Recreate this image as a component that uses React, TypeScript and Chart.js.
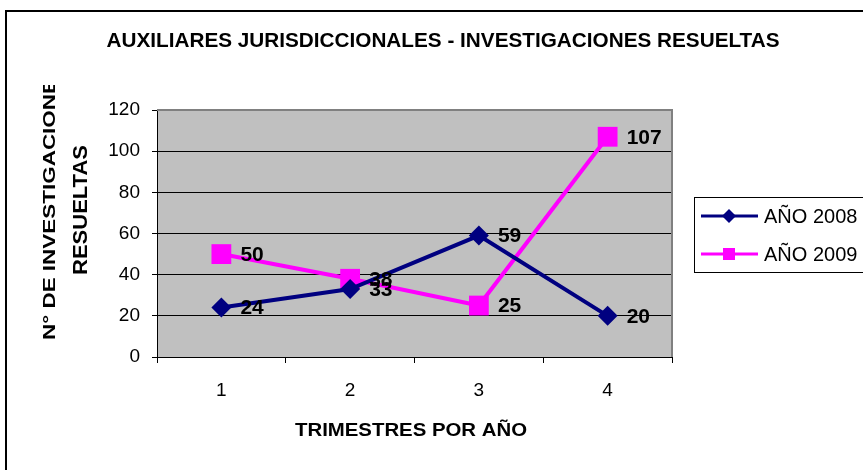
import React, { useEffect, useRef } from "react";
import { Chart, registerables } from "chart.js";

Chart.register(...registerables);

const categories = ["1", "2", "3", "4"];
const serie2008 = [24, 33, 59, 20];
const serie2009 = [50, 38, 25, 107];
const seriesNames = ["AÑO 2008", "AÑO 2009"];
const yTicks = { min: 0, max: 120, step: 20 };
const titleText = "AUXILIARES JURISDICCIONALES - INVESTIGACIONES RESUELTAS";
const yTitle = ["N° DE INVESTIGACIONES", "RESUELTAS"];
const xTitle = "TRIMESTRES POR AÑO";

const NAVY = "#000080";
const MAGENTA = "#FF00FF";
const FONT = "Arial, 'Liberation Sans', sans-serif";

function fitText(ctx: CanvasRenderingContext2D, text: string, cx: number, cy: number, font: string, width: number, rot = 0) {
  ctx.save();
  ctx.font = font;
  const w = ctx.measureText(text).width;
  ctx.translate(cx, cy);
  ctx.rotate(rot);
  ctx.scale(width / w, 1);
  ctx.textAlign = "center";
  ctx.textBaseline = "middle";
  ctx.fillStyle = "#000";
  ctx.fillText(text, 0, 0);
  ctx.restore();
}

const decor = {
  id: "decor",
  beforeDraw(chart: any) {
    const { ctx, chartArea: a } = chart;
    ctx.save();
    ctx.fillStyle = "#fff";
    ctx.fillRect(0, 0, chart.width, chart.height);
    ctx.fillStyle = "#C0C0C0";
    ctx.fillRect(a.left, a.top, a.right - a.left, a.bottom - a.top);
    ctx.restore();
  },
  beforeDatasetsDraw(chart: any) {
    const { ctx, chartArea: a } = chart;
    ctx.save();
    ctx.strokeStyle = "#808080";
    ctx.lineWidth = 2;
    ctx.beginPath();
    ctx.moveTo(a.left, a.top);
    ctx.lineTo(a.right, a.top);
    ctx.lineTo(a.right, a.bottom);
    ctx.stroke();
    ctx.restore();
  },
  afterDatasetsDraw(chart: any) {
    const { ctx } = chart;
    ctx.save();
    ctx.font = "bold 21px " + FONT;
    ctx.fillStyle = "#000";
    ctx.textAlign = "left";
    ctx.textBaseline = "middle";
    chart.data.datasets.forEach((ds: any, i: number) => {
      const meta = chart.getDatasetMeta(i);
      meta.data.forEach((pt: any, j: number) => {
        ctx.fillText(String(ds.data[j]), pt.x + 19, pt.y + 1);
      });
    });
    ctx.restore();
  },
  afterDraw(chart: any) {
    const { ctx } = chart;
    ctx.save();
    ctx.strokeStyle = "#000";
    ctx.lineWidth = 2;
    ctx.beginPath();
    ctx.moveTo(6, chart.height + 5);
    ctx.lineTo(6, 11);
    ctx.lineTo(chart.width + 5, 11);
    ctx.stroke();
    ctx.restore();

    fitText(ctx, titleText, 443, 41, "bold 20px " + FONT, 673);
    fitText(ctx, xTitle, 411, 431, "bold 19px " + FONT, 232);

    ctx.save();
    ctx.beginPath();
    ctx.rect(0, 85, 120, 380);
    ctx.clip();
    fitText(ctx, yTitle[0], 50, 202, "bold 17px " + FONT, 276, -Math.PI / 2);
    ctx.restore();
    fitText(ctx, yTitle[1], 81, 210, "bold 20px " + FONT, 130, -Math.PI / 2);

    ctx.save();
    ctx.strokeStyle = "#000";
    ctx.lineWidth = 1;
    ctx.strokeRect(694.5, 197.5, 200, 75);
    const items = [
      { name: seriesNames[0], color: NAVY, y: 216, style: "diamond" },
      { name: seriesNames[1], color: MAGENTA, y: 254, style: "square" },
    ];
    items.forEach((it) => {
      ctx.strokeStyle = it.color;
      ctx.lineWidth = 3;
      ctx.beginPath();
      ctx.moveTo(701, it.y);
      ctx.lineTo(758, it.y);
      ctx.stroke();
      ctx.fillStyle = it.color;
      ctx.beginPath();
      if (it.style === "diamond") {
        ctx.moveTo(729, it.y - 7);
        ctx.lineTo(736, it.y);
        ctx.lineTo(729, it.y + 7);
        ctx.lineTo(722, it.y);
        ctx.closePath();
      } else {
        ctx.rect(723, it.y - 6, 12, 12);
      }
      ctx.fill();
      ctx.fillStyle = "#000";
      ctx.font = "20px " + FONT;
      ctx.textAlign = "left";
      ctx.textBaseline = "middle";
      ctx.fillText(it.name, 764, it.y + 1);
    });
    ctx.restore();
  },
};

export default function App() {
  const ref = useRef<HTMLCanvasElement | null>(null);
  useEffect(() => {
    document.body.style.margin = "0";
    const canvas = ref.current!;
    const chart = new Chart(canvas, {
      type: "line",
      data: {
        labels: categories,
        datasets: [
          {
            label: seriesNames[0],
            data: serie2008,
            borderColor: NAVY,
            backgroundColor: NAVY,
            borderWidth: 4,
            pointStyle: "rectRot",
            pointRadius: 10,
            pointBorderWidth: 0,
            pointBackgroundColor: NAVY,
            tension: 0,
          },
          {
            label: seriesNames[1],
            data: serie2009,
            borderColor: MAGENTA,
            backgroundColor: MAGENTA,
            borderWidth: 4,
            pointStyle: "rect",
            pointRadius: 14,
            pointBorderWidth: 0,
            pointBackgroundColor: MAGENTA,
            tension: 0,
          },
        ],
      },
      options: {
        animation: false,
        responsive: false,
        devicePixelRatio: 1,
        events: [],
        layout: { padding: { top: 110, right: 191, bottom: 0, left: 0 } },
        plugins: { legend: { display: false }, title: { display: false }, tooltip: { enabled: false } },
        scales: {
          x: {
            offset: true,
            grid: { offset: true, drawOnChartArea: false, tickLength: 6, tickColor: "#000", color: "#000" },
            border: { color: "#000", width: 1 },
            ticks: { color: "#000", font: { family: FONT, size: 19 }, padding: 16 },
            afterFit: (s: any) => { s.height = 113; },
          },
          y: {
            min: yTicks.min,
            max: yTicks.max,
            ticks: { stepSize: yTicks.step, color: "#000", font: { family: FONT, size: 19 }, padding: 12 },
            grid: {
              color: (c: any) => (c.tick && c.tick.value === yTicks.max ? "rgba(0,0,0,0)" : "#000"),
              tickColor: "#000",
              tickLength: 5,
              lineWidth: 1,
            },
            border: { color: "#000", width: 1 },
            afterFit: (s: any) => { s.width = 157; },
          },
        },
      },
      plugins: [decor],
    } as any);
    return () => chart.destroy();
  }, []);
  return <canvas ref={ref} width={863} height={470} style={{ display: "block" }} />;
}
